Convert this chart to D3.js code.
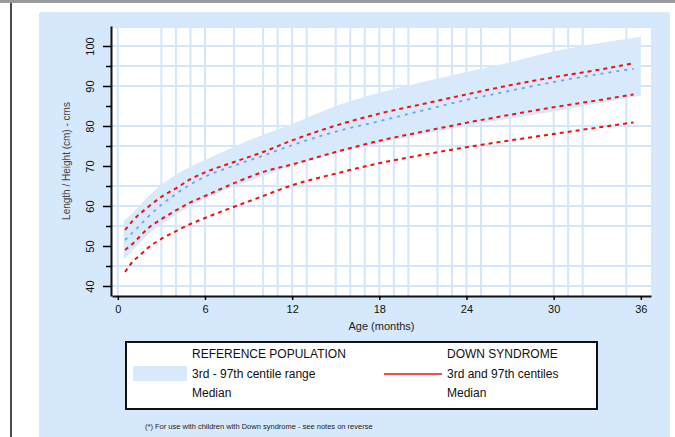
<!DOCTYPE html>
<html>
<head>
<meta charset="utf-8">
<script src="https://cdn.jsdelivr.net/npm/d3@7"></script>
<style>
  body { margin: 0; background: #fff; }
  svg { display: block; font-family: "Liberation Sans", Arial, sans-serif; }
</style>
</head>
<body>
<div id="chart"></div>
<script>
let w = 675;
let h = 437;

// months where the curves are sampled
let lineMonths = [0.5, 1, 1.5, 2, 3, 4, 5, 6, 8, 10, 12, 15, 18, 21, 24, 27, 30, 33, 35.5];
let bandMonths = [0.4, 1, 1.5, 2, 3, 4, 5, 6, 8, 10, 12, 15, 18, 21, 24, 27, 30, 33, 36];

// reference population, 3rd - 97th centile band and median
let ref3 = [46.6, 48.8, 50.7, 52.6, 55.4, 57.8, 60, 61.9, 64.9, 67.5, 70, 73.2, 75.7, 78, 80, 81.9, 83.6, 85.6, 87.6];
let ref97 = [56.3, 58.2, 60.1, 62, 65.3, 67.8, 69.8, 71.5, 74.8, 77.8, 80.5, 85, 88.3, 91, 93.5, 95.9, 98.6, 100.6, 102.3];
let refMedian = [51.5, 53.3, 55.1, 57, 60.3, 63, 65.4, 67.3, 70.1, 72.6, 75.2, 78.6, 81.2, 83.9, 86.5, 88.8, 91, 92.9, 94.3];

// Down syndrome centiles
let ds3 = [43.5, 46, 47.6, 49.3, 51.8, 53.7, 55.5, 57, 59.8, 62.5, 65.2, 68.1, 70.7, 72.8, 74.7, 76.4, 78, 79.6, 80.9];
let dsMedian = [49, 50.5, 52.3, 54.2, 56.7, 58.9, 60.9, 62.5, 65.7, 68.5, 70.4, 73.5, 76.3, 78.6, 80.8, 82.8, 84.7, 86.4, 87.9];
let ds97 = [54, 56.2, 58, 59.5, 62.3, 64.4, 66.7, 68.4, 71, 73.5, 76.4, 80.1, 83.1, 85.5, 87.9, 90.2, 92.2, 94, 95.7];

// ticks and grid
let xTicks = [0, 6, 12, 18, 24, 30, 36];
let yTicks = [40, 50, 60, 70, 80, 90, 100];
let yMinor = [45, 55, 65, 75, 85, 95];
let xGrid = [0, 3, 4, 5, 6, 8, 10, 11, 12, 13, 15, 16, 17, 18, 19, 20, 22, 23, 24, 25, 27, 30, 31, 32, 35];
let yGrid = [40, 45, 55, 60, 65, 75, 80, 90, 95, 100];

let panelBlue = "#d6e8fb";
let gridBlue = "#d3e6fa";
let red = "#f01010";

let svg = d3.select("#chart").append("svg")
  .attr("width", w)
  .attr("height", h);

// page frame bits
svg.append("line").attr("x1", 0).attr("x2", w).attr("y1", 1.5).attr("y2", 1.5)
  .attr("stroke", "#9a9a9a").attr("stroke-width", 3);
svg.append("line").attr("x1", 11).attr("x2", 11).attr("y1", 3).attr("y2", h)
  .attr("stroke", "#111").attr("stroke-width", 1.5);

// blue panel
svg.append("rect").attr("x", 39).attr("y", 12).attr("width", 631).attr("height", h - 12 + 5)
  .attr("rx", 3).attr("fill", panelBlue);

let xScale = d3.scaleLinear().domain([-0.4, 36.7]).range([112, 651]);
let yScale = d3.scaleLinear().domain([37.5, 105]).range([296, 26]);

// plot area
svg.append("rect")
  .attr("x", xScale(-0.4)).attr("y", yScale(105))
  .attr("width", xScale(36.7) - xScale(-0.4))
  .attr("height", yScale(37.5) - yScale(105))
  .attr("fill", "#fff");

// grid
let grid = svg.append("g");
grid.selectAll(".vg").data(xGrid).enter().append("line")
  .attr("x1", d => xScale(d)).attr("x2", d => xScale(d))
  .attr("y1", yScale(105)).attr("y2", yScale(37.5))
  .attr("stroke", gridBlue).attr("stroke-width", 2);
grid.selectAll(".hg").data(yGrid).enter().append("line")
  .attr("x1", xScale(-0.4)).attr("x2", xScale(36.7))
  .attr("y1", d => yScale(d)).attr("y2", d => yScale(d))
  .attr("stroke", gridBlue).attr("stroke-width", 2);
grid.append("line")
  .attr("x1", xScale(-0.4)).attr("x2", xScale(36.7))
  .attr("y1", yScale(105) + 1).attr("y2", yScale(105) + 1)
  .attr("stroke", gridBlue).attr("stroke-width", 2);

// reference band
let band = bandMonths.map((m, i) => ({m: m, lo: ref3[i], hi: ref97[i]}));
svg.append("path")
  .datum(band)
  .attr("fill", "#d8e9fb")
  .attr("d", d3.area()
    .x(d => xScale(d.m))
    .y0(d => yScale(d.lo))
    .y1(d => yScale(d.hi))
    .curve(d3.curveMonotoneX));

let line = d3.line()
  .x(d => xScale(d[0]))
  .y(d => yScale(d[1]))
  .curve(d3.curveMonotoneX);

function drawLine(values, colour, width, dash) {
  svg.append("path")
    .datum(lineMonths.map((m, i) => [m, values[i]]))
    .attr("fill", "none")
    .attr("stroke", colour)
    .attr("stroke-width", width)
    .attr("stroke-dasharray", dash)
    .attr("d", line);
}

drawLine(refMedian, "#62a8ee", 1.8, "3,5");
drawLine(ds3, red, 2, "4,4");
drawLine(dsMedian, red, 2, "4,4");
drawLine(ds97, red, 2, "4,4");

// axes
let xAxis = svg.append("g")
  .attr("transform", "translate(0," + 296 + ")")
  .call(d3.axisBottom(xScale).tickValues(xTicks).tickSize(4).tickSizeOuter(0));
xAxis.select(".domain").attr("stroke-width", 2).attr("stroke", "#111");
xAxis.selectAll(".tick line").attr("stroke-width", 1.5);
xAxis.selectAll("text").attr("font-size", 11).attr("fill", "#111").attr("dy", "0.9em");

let yAxis = svg.append("g")
  .attr("transform", "translate(" + 111 + ",0)")
  .call(d3.axisLeft(yScale).tickValues(yTicks).tickSize(8).tickSizeOuter(0));
yAxis.select(".domain").attr("stroke-width", 2).attr("stroke", "#111");
yAxis.selectAll(".tick line").attr("stroke-width", 1.5);
yAxis.selectAll("text")
  .attr("font-size", 11).attr("fill", "#111")
  .attr("x", 0).attr("dy", 0)
  .attr("text-anchor", "middle")
  .attr("transform", "translate(-17,0) rotate(-90)");

let yMinorAxis = svg.append("g")
  .attr("transform", "translate(" + 111 + ",0)")
  .call(d3.axisLeft(yScale).tickValues(yMinor).tickSize(5).tickFormat(""));
yMinorAxis.select(".domain").remove();
yMinorAxis.selectAll(".tick line").attr("stroke-width", 1.5);

// axis titles
svg.append("text")
  .attr("x", (xScale(-0.4) + xScale(36.7)) / 2).attr("y", 330)
  .attr("text-anchor", "middle").attr("font-size", 11).attr("fill", "#222")
  .text("Age (months)");
svg.append("text")
  .attr("transform", "translate(70," + ((yScale(37.5) + yScale(105)) / 2) + ") rotate(-90)")
  .attr("text-anchor", "middle").attr("font-size", 10).attr("fill", "#444")
  .text("Length / Height (cm) - cms");

// legend
let lg = svg.append("g");
lg.append("rect").attr("x", 126).attr("y", 342).attr("width", 471).attr("height", 67)
  .attr("fill", "#fff").attr("stroke", "#111").attr("stroke-width", 2);
lg.append("rect").attr("x", 133).attr("y", 366).attr("width", 54).attr("height", 15)
  .attr("fill", "#d8e9fb");
lg.append("line").attr("x1", 384).attr("x2", 442).attr("y1", 374).attr("y2", 374)
  .attr("stroke", red).attr("stroke-width", 1.5);

let legendLeft = ["REFERENCE POPULATION", "3rd - 97th centile range", "Median"];
let legendRight = ["DOWN SYNDROME", "3rd and 97th centiles", "Median"];
let rowY = [354, 374, 393];
lg.selectAll(".ll").data(legendLeft).enter().append("text")
  .attr("x", 192).attr("y", (d, i) => rowY[i]).attr("dy", "0.35em")
  .attr("font-size", 12).attr("fill", "#111").text(d => d);
lg.selectAll(".lr").data(legendRight).enter().append("text")
  .attr("x", 447).attr("y", (d, i) => rowY[i]).attr("dy", "0.35em")
  .attr("font-size", 12).attr("fill", "#111").text(d => d);

// footnote
svg.append("text").attr("x", 145).attr("y", 429)
  .attr("font-size", 7.5).attr("fill", "#222")
  .text("(*) For use with children with Down syndrome - see notes on reverse");
</script>
</body>
</html>
